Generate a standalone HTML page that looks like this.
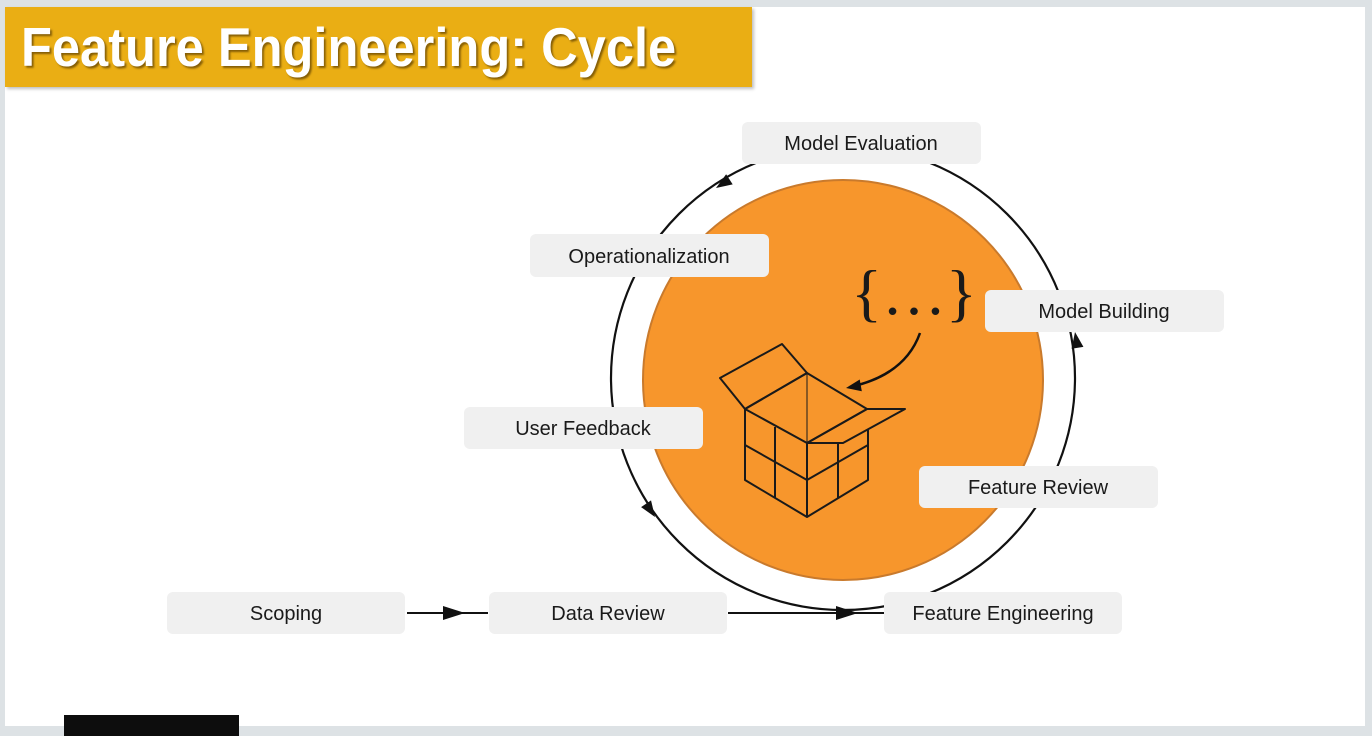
<!DOCTYPE html>
<html><head><meta charset="utf-8">
<style>
html,body{margin:0;padding:0;}
body{width:1372px;height:736px;background:#dde2e5;position:relative;overflow:hidden;font-family:"Liberation Sans",sans-serif;}
.panel{position:absolute;left:5px;top:7px;width:1360px;height:719px;background:#fff;}
.title{position:absolute;left:5px;top:7px;width:747px;height:80px;background:#eaae14;box-shadow:2px 2px 3px rgba(0,0,0,0.25);}
.title span{position:absolute;left:16px;top:8px;font-size:55px;font-weight:bold;color:#fff;text-shadow:2px 2px 2px rgba(90,60,0,0.7);transform:scaleX(0.92);transform-origin:0 0;white-space:nowrap;}
.blk{position:absolute;left:64px;top:715px;width:175px;height:21px;background:#0d0d0d;}
</style></head><body>
<div class="panel"></div>
<div class="title"><span>Feature Engineering: Cycle</span></div>
<svg style="position:absolute;left:0;top:0" width="1372" height="736">
<circle cx="843" cy="380" r="200" fill="#f7962c" stroke="#c97a2c" stroke-width="2"/>
<circle cx="843" cy="378" r="232" fill="none" stroke="#111" stroke-width="2.2"/>
<polygon points="0,0 -16,-6 -16,6" fill="#111" transform="translate(716,188) rotate(147)"/>
<polygon points="0,0 -16,-6 -16,6" fill="#111" transform="translate(655,517) rotate(56)"/>
<polygon points="0,0 -16,-6 -16,6" fill="#111" transform="translate(1075,332) rotate(-99)"/>
<line x1="407" y1="613" x2="488" y2="613" stroke="#111" stroke-width="2"/>
<polygon points="465,613 443,606 443,620" fill="#111"/>
<line x1="728" y1="613" x2="884" y2="613" stroke="#111" stroke-width="2"/>
<polygon points="858,613 836,606 836,620" fill="#111"/>
<g fill="#f0f0f0">
<rect x="742" y="122" width="239" height="42" rx="6"/>
<rect x="530" y="234" width="239" height="43" rx="6"/>
<rect x="985" y="290" width="239" height="42" rx="6"/>
<rect x="464" y="407" width="239" height="42" rx="6"/>
<rect x="919" y="466" width="239" height="42" rx="6"/>
<rect x="167" y="592" width="238" height="42" rx="6"/>
<rect x="489" y="592" width="238" height="42" rx="6"/>
<rect x="884" y="592" width="238" height="42" rx="6"/>
</g>
<g font-family="Liberation Sans, sans-serif" font-size="20" fill="#1a1a1a" text-anchor="middle">
<text x="861" y="150">Model Evaluation</text>
<text x="649" y="263">Operationalization</text>
<text x="1104" y="318">Model Building</text>
<text x="583" y="435">User Feedback</text>
<text x="1038" y="494">Feature Review</text>
<text x="286" y="620">Scoping</text>
<text x="608" y="620">Data Review</text>
<text x="1003" y="620">Feature Engineering</text>
</g>
<text x="914" y="314" font-family="Liberation Serif, serif" font-size="64" fill="#1a1a1a" text-anchor="middle">{…}</text>
<path d="M920,333 Q905,375 850,387" fill="none" stroke="#111" stroke-width="2.5"/>
<polygon points="0,0 -15,-6 -15,6" fill="#111" transform="translate(846,388) rotate(170)"/>
<g fill="none" stroke="#1a1a1a" stroke-width="2" stroke-linejoin="round">
<polygon points="720,378 782,344 807,373 745,409"/>
<polygon points="745,409 807,373 867,409 807,443"/>
<polygon points="867,409 905,409 843,443 807,443"/>
<polyline points="745,409 745,480 807,517 868,480 868,430"/>
<line x1="807" y1="443" x2="807" y2="517"/>
<polyline points="745,445 807,480 868,445"/>
<line x1="775" y1="427" x2="775" y2="498"/>
<line x1="838" y1="443" x2="838" y2="498"/>
<line x1="807" y1="373" x2="807" y2="443" stroke-width="1"/>
</g>
</svg>
<div class="blk"></div>
</body></html>
